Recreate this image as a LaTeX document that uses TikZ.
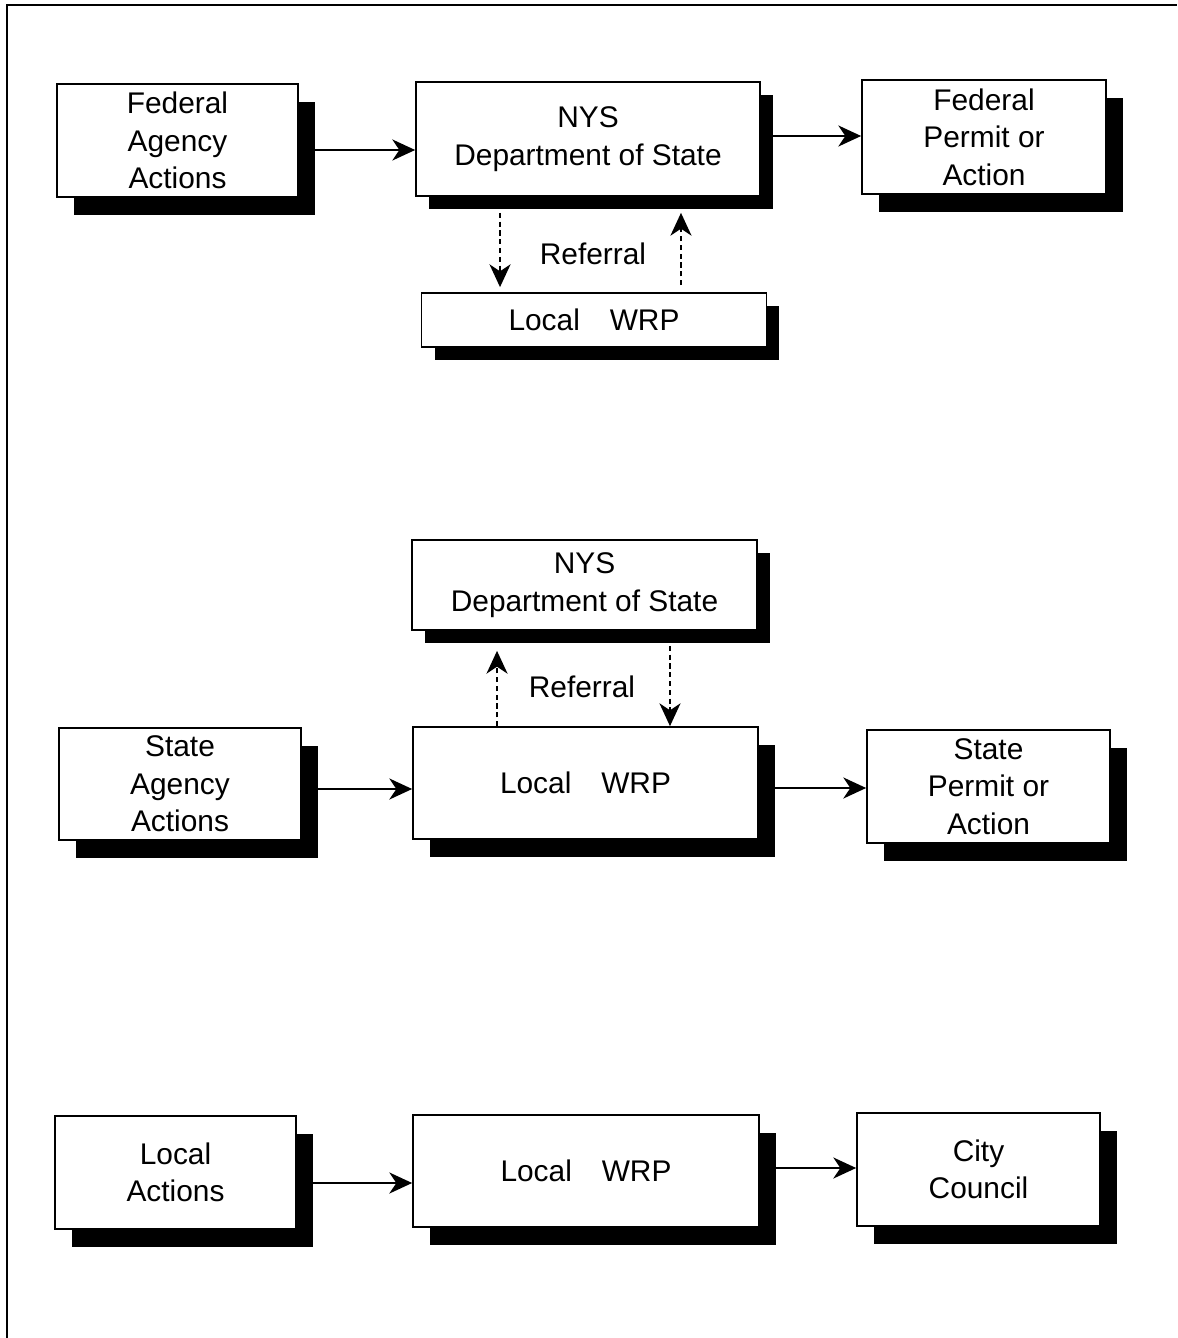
\documentclass[tikz,border=0pt]{standalone}
\usepackage{fontspec}
\setmainfont{Liberation Sans}
\usetikzlibrary{arrows.meta,shadows}

\tikzset{
  plainbox/.style={draw, fill=white, line width=1pt, align=center, inner sep=0pt},
  box/.style={plainbox,
    drop shadow={shadow xshift=0.34cm, shadow yshift=-0.36cm, fill=black, opacity=1}},
  flatbox/.style={plainbox,
    drop shadow={shadow xshift=0.26cm, shadow yshift=-0.26cm, fill=black, opacity=1}},
  flow/.style={line width=1pt, -{Stealth[length=13pt,width=12pt,inset=4pt]}},
  refer/.style={flow, dash pattern=on 3pt off 2pt}
}

\begin{document}
\begin{tikzpicture}[x=0.02cm, y=-0.02cm, font=\fontsize{17pt}{21.3pt}\selectfont]
	\useasboundingbox (0,0) rectangle (1177,1338);
	\draw[line width=1.2pt] (7,1338) -- (7,5) -- (1177,5);

	% federal actions
	\node[box, minimum width=4.82cm, minimum height=2.26cm] (fedact) at (177.5,140.5) {Federal\\Agency\\Actions};
	\node[flatbox, minimum width=6.88cm, minimum height=2.28cm] (dos1) at (588,139) {NYS\\Department of State};
	\node[box, minimum width=4.88cm, minimum height=2.28cm] (fedpermit) at (984,137) {Federal\\Permit or\\Action};
	\node[flatbox, minimum width=6.9cm, minimum height=1.08cm] (wrp1) at (594,320) {Local\quad WRP};
	\node (ref1) at (593,254) {Referral};

	\coordinate (f1) at ([yshift=-0.19cm]fedact.east);
	\draw[flow] (f1) -- (f1 -| dos1.west);
	\coordinate (f2) at ([yshift=0.06cm]dos1.east);
	\draw[flow] (f2) -- (f2 -| fedpermit.west);
	\coordinate (r1) at ([xshift=-1.76cm]dos1.south);
	\draw[refer, shorten <=0.32cm, shorten >=0.1cm] (r1) -- (r1 |- wrp1.north);
	\coordinate (r2) at ([xshift=1.74cm]wrp1.north);
	\draw[refer, shorten <=0.14cm, shorten >=0.32cm] (r2) -- (r2 |- dos1.south);

	% state actions
	\node[flatbox, minimum width=6.9cm, minimum height=1.8cm] (dos2) at (584.5,585) {NYS\\Department of State};
	\node[box, minimum width=4.84cm, minimum height=2.24cm] (stateact) at (180,784) {State\\Agency\\Actions};
	\node[box, minimum width=6.9cm, minimum height=2.24cm] (wrp2) at (585.5,783) {Local\quad WRP};
	\node[box, minimum width=4.86cm, minimum height=2.26cm] (statepermit) at (988.5,786.5) {State\\Permit or\\Action};
	\node (ref2) at (582,687) {Referral};

	\coordinate (s1) at ([yshift=-0.1cm]stateact.east);
	\draw[flow] (s1) -- (s1 -| wrp2.west);
	\coordinate (s2) at ([yshift=-0.1cm]wrp2.east);
	\draw[flow] (s2) -- (s2 -| statepermit.west);
	\coordinate (r3) at ([xshift=-1.77cm]wrp2.north);
	\draw[refer, shorten >=0.4cm] (r3) -- (r3 |- dos2.south);
	\coordinate (r4) at ([xshift=1.71cm]dos2.south);
	\draw[refer, shorten <=0.3cm] (r4) -- (r4 |- wrp2.north);

	% local actions
	\node[box, minimum width=4.82cm, minimum height=2.26cm] (localact) at (175.5,1172.5) {Local\\Actions};
	\node[box, minimum width=6.92cm, minimum height=2.24cm] (wrp3) at (586,1171) {Local\quad WRP};
	\node[box, minimum width=4.86cm, minimum height=2.26cm] (council) at (978.5,1169.5) {City\\Council};

	\coordinate (l1) at ([yshift=-0.21cm]localact.east);
	\draw[flow] (l1) -- (l1 -| wrp3.west);
	\coordinate (l2) at ([yshift=0.06cm]wrp3.east);
	\draw[flow] (l2) -- (l2 -| council.west);
\end{tikzpicture}
\end{document}
